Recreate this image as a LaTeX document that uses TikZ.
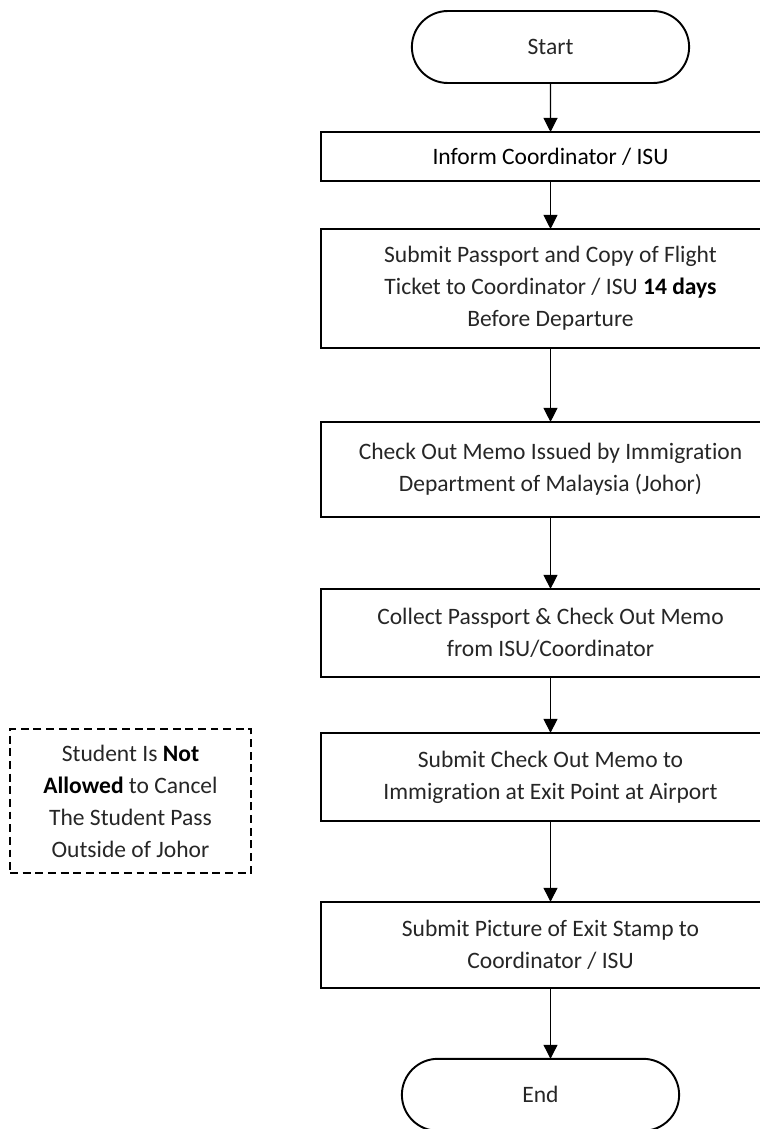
\documentclass[tikz,border=0pt]{standalone}
\usepackage{fontspec}
\setmainfont{Carlito}[Ligatures = NoCommon]
\usetikzlibrary{arrows.meta, positioning, shapes.misc}

\begin{document}
\begin{tikzpicture}[x = 0.02cm, y = -0.02cm, > = {Triangle[length = 8pt, width = 8pt]}, node distance = 1cm,
    font = \fontsize{13.4}{18.2}\selectfont,
    terminal/.style = {rounded rectangle, draw, line width = 1.1pt, outer sep = 0pt, minimum width = 5.78cm, minimum height = 1.44cm, text = black!85},
    process/.style = {rectangle, draw, line width = 1.1pt, outer sep = 0pt, minimum width = 9.2cm, align = center, text = black!85},
    remark/.style = {rectangle, draw, line width = 1.1pt, dash pattern = on 4.5pt off 2.7pt, minimum width = 4.82cm, minimum height = 2.88cm, align = center, text = black!85},
    flow/.style = {->, line width = 0.6pt}]
    \clip (0, 0) rectangle (760, 1129);
    \node[terminal]								(start)	at (550.5, 47)			{Start};
    \node[process, minimum height = 0.98cm, text = black]	(inform)	[below = 0.98cm of start]	{Inform Coordinator / ISU};
    \node[process, minimum height = 2.38cm]		(submit)	[below = 0.96cm of inform]	{Submit Passport and Copy of Flight\\ Ticket to Coordinator / ISU \textcolor{black}{\textbf{14 days}}\\ Before Departure};
    \node[process, minimum height = 1.90cm]		(memo)	[below = 1.48cm of submit]	{Check Out Memo Issued by Immigration\\ Department of Malaysia (Johor)};
    \node[process, minimum height = 1.76cm]		(collect)	[below = 1.44cm of memo]	{Collect Passport \& Check Out Memo\\ from ISU/Coordinator};
    \node[process, minimum height = 1.76cm]		(exit)	[below = 1.12cm of collect]	{Submit Check Out Memo to\\ Immigration at Exit Point at Airport};
    \node[process, minimum height = 1.72cm]		(stamp)	[below = 1.62cm of exit]	{Submit Picture of Exit Stamp to\\ Coordinator / ISU};
    \node[terminal]								(finish)	[below = 1.42cm of stamp, xshift = -0.2cm]	{End};
    \node[remark]								(rule)	at (130.5, 801)			{Student Is \textcolor{black}{\textbf{Not}}\\ \textcolor{black}{\textbf{Allowed}} to Cancel\\ The Student Pass\\ Outside of Johor};
    \path[flow]	(start)		edge	(inform);
    \path[flow]	(inform)	edge	(submit);
    \path[flow]	(submit)	edge	(memo);
    \path[flow]	(memo)		edge	(collect);
    \path[flow]	(collect)	edge	(exit);
    \path[flow]	(exit)		edge	(stamp);
    \path[flow]	(stamp)		edge	(stamp.south |- finish.north);
\end{tikzpicture}
\end{document}
